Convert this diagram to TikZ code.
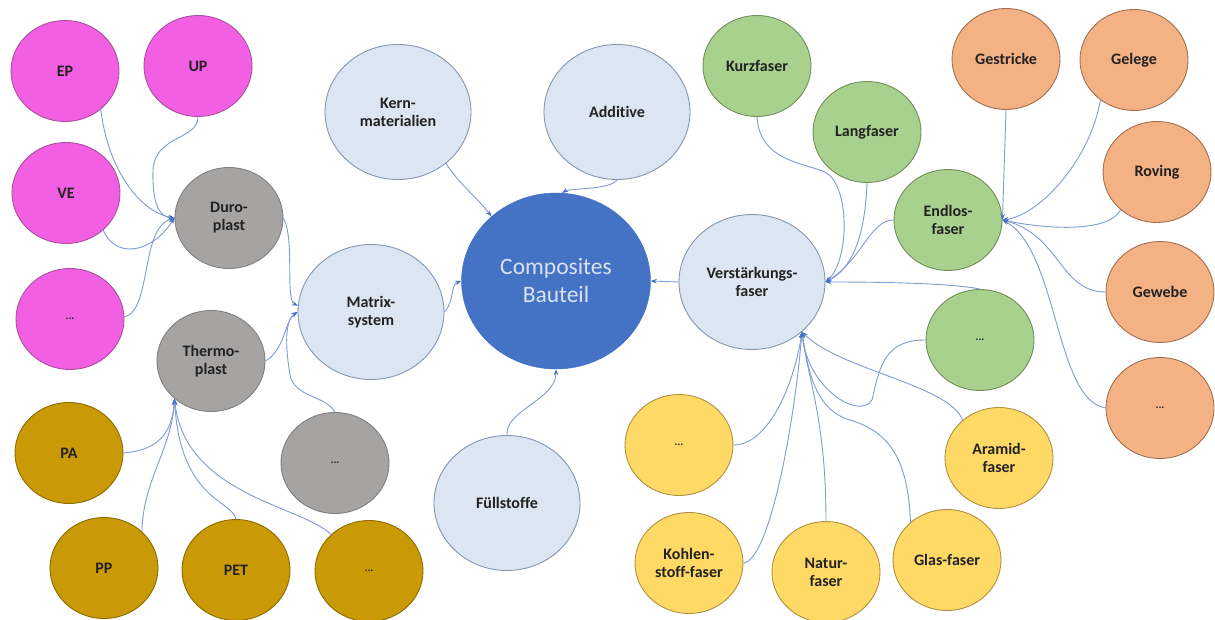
\documentclass[tikz,border=0pt]{standalone}
\usepackage{fontspec}
\setmainfont{Carlito}[Ligatures=NoCommon]
\usetikzlibrary{shapes.geometric,arrows.meta}
\definecolor{pk}{HTML}{F35FE3}
\definecolor{pkd}{HTML}{A8509E}
\definecolor{gy}{HTML}{A6A3A3}
\definecolor{gyd}{HTML}{7F7F7F}
\definecolor{gd}{HTML}{C99A06}
\definecolor{gdd}{HTML}{8C6B00}
\definecolor{lb}{HTML}{DCE6F2}
\definecolor{lbd}{HTML}{8497B0}
\definecolor{cb}{HTML}{4472C4}
\definecolor{cbt}{HTML}{DAE3F3}
\definecolor{gr}{HTML}{A9D18E}
\definecolor{grd}{HTML}{6E8F5A}
\definecolor{og}{HTML}{F4B183}
\definecolor{ogd}{HTML}{A07050}
\definecolor{yl}{HTML}{FFD966}
\definecolor{yld}{HTML}{B09040}
\definecolor{txt}{HTML}{222222}
\definecolor{cl}{HTML}{7F9BD3}
\definecolor{ar}{HTML}{4472C4}
\newcommand{\dotsl}{{\fontsize{11}{13}\selectfont ...}}
\begin{document}
\begin{tikzpicture}[x=1pt,y=-1pt,
  bub/.style={ellipse,inner sep=0pt,minimum width=108pt,minimum height=101pt,line width=0.9pt,align=center,font=\bfseries\fontsize{16}{18}\selectfont,text=txt},
  bigbub/.style={bub,minimum width=146pt,minimum height=135pt,fill=lb,draw=lbd},
  pinkbub/.style={bub,fill=pk,draw=pkd},
  graybub/.style={bub,fill=gy,draw=gyd},
  goldbub/.style={bub,fill=gd,draw=gdd},
  greenbub/.style={bub,fill=gr,draw=grd},
  orangebub/.style={bub,fill=og,draw=ogd},
  yellowbub/.style={bub,fill=yl,draw=yld},
  conn/.style={draw=cl,line width=0.9pt,-{Stealth[length=6pt,width=4.5pt,color=ar]}}
]
\useasboundingbox[fill=white] (0,0) rectangle (1215,620);
% pink
\node[pinkbub] (ep) at (65,71) {EP};
\node[pinkbub] (up) at (198,66) {UP};
\node[pinkbub] (ve) at (66,193) {VE};
\node[pinkbub] (pd) at (70,319) {\dotsl};
% gray
\node[graybub] (duro) at (229,218) {Duro-\\plast};
\node[graybub] (thermo) at (211,361) {Thermo-\\plast};
\node[graybub] (gdots) at (335,463) {\dotsl};
% gold
\node[goldbub] (pa) at (69,453) {PA};
\node[goldbub] (pp) at (104,568) {PP};
\node[goldbub] (pet) at (236,570) {PET};
\node[goldbub] (odots) at (369,571) {\dotsl};
% light blue
\node[bigbub] (kern) at (398,112) {Kern-\\materialien};
\node[bigbub] (add) at (617,112) {Additive};
\node[bigbub] (matrix) at (371,312) {Matrix-\\system};
\node[bigbub] (full) at (507,503) {Füllstoffe};
\node[bigbub] (verst) at (752,282) {Verstärkungs-\\faser};
\node[ellipse,inner sep=0pt,minimum width=189pt,minimum height=176pt,fill=cb,draw=cb,align=center,text=cbt,font=\fontsize{23.5}{28}\selectfont] (comp) at (556,281) {Composites\\Bauteil};
% green
\node[greenbub] (kurz) at (757,66) {Kurzfaser};
\node[greenbub] (lang) at (867,132) {Langfaser};
\node[greenbub] (endl) at (948,220) {Endlos-\\faser};
\node[greenbub] (gnd) at (980,340) {\dotsl};
% orange
\node[orangebub] (gest) at (1006,59) {Gestricke};
\node[orangebub] (gel) at (1134,60) {Gelege};
\node[orangebub] (rov) at (1157,172) {Roving};
\node[orangebub] (gew) at (1160,292) {Gewebe};
\node[orangebub] (ord) at (1160,408) {\dotsl};
% yellow
\node[yellowbub] (yd) at (679,445) {\dotsl};
\node[yellowbub] (aram) at (999,458) {Aramid-\\faser};
\node[yellowbub] (kohl) at (689,563) {Kohlen-\\stoff-faser};
\node[yellowbub] (natur) at (826,572) {Natur-\\faser};
\node[yellowbub] (glas) at (947,560) {Glas-faser};
% connectors to Duroplast
\draw[conn] (ep.-47) .. controls (108,170) and (140,212) .. (duro.west);
\draw[conn] (up.south) .. controls (198,140) and (155,135) .. (153,170) .. controls (152,205) and (160,217) .. (duro.west);
\draw[conn] (ve.-45) .. controls (115,258) and (150,255) .. (duro.west);
\draw[conn] (pd.2) .. controls (152,310) and (140,228) .. (duro.west);
% connectors to Matrix
\draw[conn] (duro.east) .. controls (295,240) and (285,300) .. (matrix.175);
\draw[conn] (thermo.east) .. controls (285,350) and (285,320) .. (matrix.west);
\draw[conn] (gdots.north) .. controls (325,395) and (295,398) .. (290,375) .. controls (285,345) and (285,320) .. (matrix.west);
% connectors to Thermoplast
\draw[conn] (pa.east) .. controls (160,450) and (172,432) .. (thermo.-134);
\draw[conn] (pp.44) .. controls (143,480) and (172,448) .. (thermo.-134);
\draw[conn] (pet.north) .. controls (232,500) and (180,500) .. (thermo.-134);
\draw[conn] (odots.136) .. controls (300,505) and (185,495) .. (thermo.-134);
% connectors to Composites
\draw[conn] (matrix.east) .. controls (455,300) and (450,285) .. (comp.west);
\draw[conn] (kern.-47) .. controls (460,185) and (475,195) .. (comp.135);
\draw[conn] (add.south) .. controls (610,190) and (570,188) .. (comp.86);
\draw[conn] (full.north) .. controls (505,410) and (556,400) .. (comp.south);
\draw[conn] (verst.west) -- (comp.east);
% connectors to Verstaerkungsfaser
\draw[conn] (kurz.south) .. controls (760,160) and (800,162) .. (825,172) .. controls (850,185) and (850,260) .. (verst.east);
\draw[conn] (lang.south) .. controls (865,240) and (850,270) .. (verst.east);
\draw[conn] (endl.west) .. controls (870,220) and (862,260) .. (verst.east);
\draw[conn] (gnd.north) .. controls (950,283) and (880,282) .. (verst.east);
\draw[conn] (yd.east) .. controls (770,445) and (795,380) .. (verst.-45);
\draw[conn] (kohl.east) .. controls (770,560) and (795,420) .. (verst.-45);
\draw[conn] (natur.north) .. controls (826,420) and (808,380) .. (verst.-45);
\draw[conn] (glas.134) .. controls (908,460) and (890,432) .. (850,420) .. controls (815,410) and (808,370) .. (verst.-45);
\draw[conn] (aram.134) .. controls (950,385) and (840,370) .. (verst.-45);
\draw[conn] (gnd.west) .. controls (885,340) and (880,365) .. (872,400) .. controls (860,420) and (808,390) .. (verst.-45);
% connectors to Endlosfaser
\draw[conn] (gest.south) -- (endl.east);
\draw[conn] (gel.-130) .. controls (1090,160) and (1040,215) .. (endl.east);
\draw[conn] (rov.-134) .. controls (1110,232) and (1050,230) .. (endl.east);
\draw[conn] (gew.west) .. controls (1060,292) and (1060,235) .. (endl.east);
\draw[conn] (ord.west) .. controls (1055,400) and (1058,250) .. (endl.east);
\end{tikzpicture}
\end{document}
